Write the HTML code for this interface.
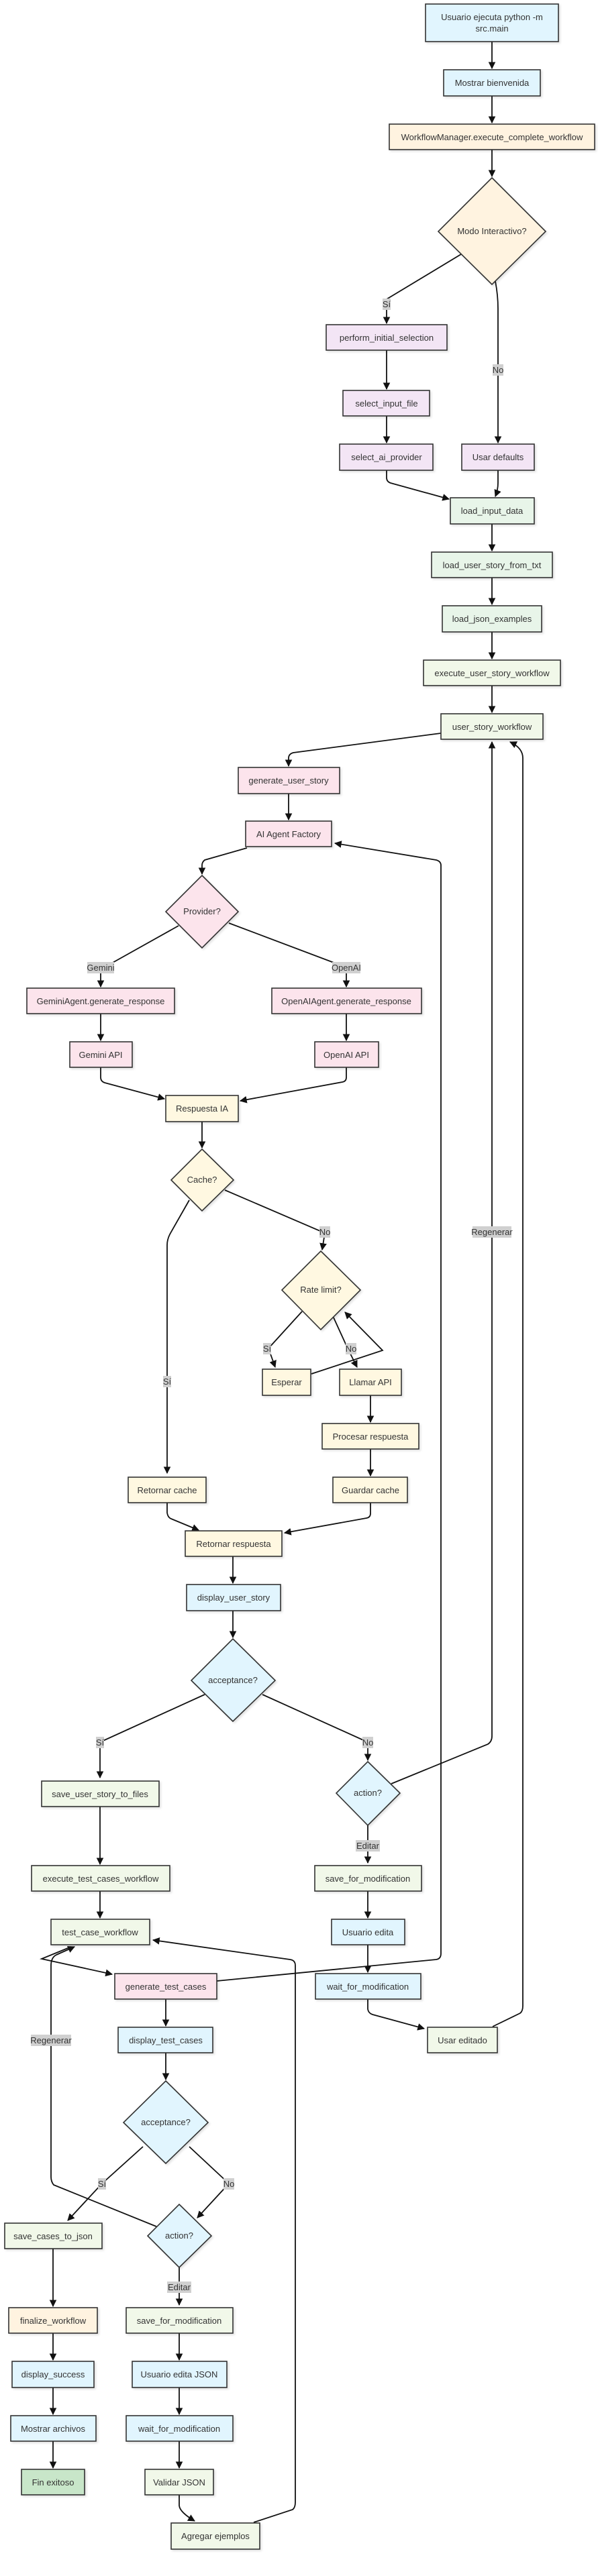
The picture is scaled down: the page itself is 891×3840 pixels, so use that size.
<!DOCTYPE html>
<html><head><meta charset="utf-8"><style>
html,body{margin:0;padding:0;background:#fff;}
svg{display:block;}
text{font-family:"Liberation Sans",sans-serif;font-size:13px;fill:#333;}
.n{stroke:#333;stroke-width:1.6;}
.e{fill:none;stroke:#111;stroke-width:1.8;}
.lb{fill:#d0d0d0;}
</style></head><body>
<svg width="891" height="3840" viewBox="0 0 891 3840" xmlns="http://www.w3.org/2000/svg">
<defs>
<marker id="a" viewBox="0 0 10 10" refX="9" refY="5" markerWidth="6" markerHeight="6" orient="auto-start-reverse" markerUnits="strokeWidth">
<path d="M0,0 L10,5 L0,10 z" fill="#111"/></marker>
<filter id="s" x="-10%" y="-10%" width="130%" height="130%"><feDropShadow dx="2" dy="2" stdDeviation="1.5" flood-color="#000" flood-opacity="0.12"/></filter>
</defs>

<!-- edges -->
<g class="e" marker-end="url(#a)">
<path d="M733,62 L733,102"/>
<path d="M733,143 L733,183"/>
<path d="M733,223 L733,263"/>
<path d="M687,379 L576,446 L576,482"/>
<path d="M738,419 Q742,440 742,460 L742,660"/>
<path d="M576,522 L576,580"/>
<path d="M576,620 L576,660"/>
<path d="M576,701 L576,712 Q576,718 582,720 L669,744"/>
<path d="M742,701 L742,720 Q742,730 738,740"/>
<path d="M733,781 L733,821"/>
<path d="M733,861 L733,901"/>
<path d="M733,942 L733,982"/>
<path d="M733,1022 L733,1062"/>
<path d="M657,1093 L437,1122 Q430,1124 430,1130 L430,1142"/>
<path d="M430,1183 L430,1222"/>
<path d="M368,1264 L305,1282 Q301,1285 301,1290 L301,1303"/>
<path d="M266,1380 L150,1445 L150,1471"/>
<path d="M341,1376 L516,1442 L516,1471"/>
<path d="M150,1511 L150,1551"/>
<path d="M516,1511 L516,1551"/>
<path d="M150,1591 L150,1606 Q150,1612 156,1614 L245,1638"/>
<path d="M516,1591 L516,1606 Q516,1612 510,1613 L358,1641"/>
<path d="M301,1672 L301,1711"/>
<path d="M335,1774 L484,1838 L480,1863"/>
<path d="M282,1789 L253,1840 Q249,1848 249,1856 L249,2196"/>
<path d="M450,1955 L400,2010 L410,2038"/>
<path d="M497,1964 L518,2010 L532,2038"/>
<path d="M464,2048 L570,2013 L514,1956"/>
<path d="M552,2080 L552,2120"/>
<path d="M552,2160 L552,2200"/>
<path d="M249,2240 L249,2255 Q250,2262 255,2264 L296,2281"/>
<path d="M552,2240 L552,2256 Q552,2262 546,2263 L424,2285"/>
<path d="M347,2320 L347,2360"/>
<path d="M347,2401 L347,2441"/>
<path d="M305,2526 L149,2597 L149,2650"/>
<path d="M391,2526 L548,2597 L548,2624"/>
<path d="M583,2659 L727,2600 Q733,2596 733,2588 L733,1106"/>
<path d="M548,2721 L548,2777"/>
<path d="M149,2693 L149,2779"/>
<path d="M149,2819 L149,2859"/>
<path d="M548,2819 L548,2859"/>
<path d="M548,2899 L548,2940"/>
<path d="M548,2980 L548,2995 Q549,3001 555,3003 L632,3024"/>
<path d="M734,3021 L775,3001 Q779,2998 779,2990 L779,1130 Q779,1115 760,1106"/>
<path d="M323,2953 L650,2921 Q657,2920 657,2912 L657,1290 Q657,1284 650,1282 L499,1257"/>
<path d="M106,2902 L62,2920 L167,2943"/>
<path d="M233,3319 L80,3257 Q76,3252 76,3245 L76,2930 Q76,2918 84,2914 L111,2902"/>
<path d="M247,2980 L247,3020"/>
<path d="M247,3060 L247,3100"/>
<path d="M213,3200 L152,3255 L101,3310"/>
<path d="M282,3200 L341,3255 L294,3306"/>
<path d="M267,3380 L267,3436"/>
<path d="M79,3352 L79,3438"/>
<path d="M79,3478 L79,3518"/>
<path d="M79,3559 L79,3599"/>
<path d="M79,3639 L79,3679"/>
<path d="M267,3478 L267,3518"/>
<path d="M267,3559 L267,3599"/>
<path d="M267,3639 L267,3679"/>
<path d="M267,3719 L267,3735 Q268,3745 290,3758"/>
<path d="M378,3760 L436,3741 Q440,3738 440,3730 L440,2930 Q440,2922 432,2921 L228,2892"/>
</g>

<!-- nodes -->
<g class="n" filter="url(#s)">
<rect x="634" y="6" width="198" height="56" fill="#e1f5fe"/>
<rect x="661" y="104" width="144" height="39" fill="#e1f5fe"/>
<rect x="580" y="185" width="306" height="38" fill="#fff3e0"/>
<polygon points="733,265 813,345 733,424 653,345" fill="#fff3e0"/>
<rect x="486" y="484" width="180" height="38" fill="#f3e5f5"/>
<rect x="511" y="582" width="129" height="38" fill="#f3e5f5"/>
<rect x="506" y="662" width="139" height="39" fill="#f3e5f5"/>
<rect x="688" y="662" width="108" height="39" fill="#f3e5f5"/>
<rect x="671" y="742" width="125" height="39" fill="#e8f5e9"/>
<rect x="643" y="823" width="180" height="38" fill="#e8f5e9"/>
<rect x="659" y="903" width="148" height="39" fill="#e8f5e9"/>
<rect x="631" y="984" width="204" height="38" fill="#f1f8e9"/>
<rect x="657" y="1064" width="152" height="38" fill="#f1f8e9"/>
<rect x="355" y="1144" width="151" height="39" fill="#fce4ec"/>
<rect x="366" y="1224" width="128" height="38" fill="#fce4ec"/>
<polygon points="301,1305 355,1359 301,1413 247,1359" fill="#fce4ec"/>
<rect x="40" y="1473" width="220" height="38" fill="#fce4ec"/>
<rect x="405" y="1473" width="223" height="38" fill="#fce4ec"/>
<rect x="104" y="1553" width="93" height="38" fill="#fce4ec"/>
<rect x="469" y="1553" width="95" height="38" fill="#fce4ec"/>
<rect x="247" y="1633" width="108" height="39" fill="#fff8e1"/>
<polygon points="301,1713 348,1759 301,1805 255,1759" fill="#fff8e1"/>
<polygon points="478,1865 537,1923 478,1982 420,1923" fill="#fff8e1"/>
<rect x="391" y="2041" width="72" height="39" fill="#fff8e1"/>
<rect x="506" y="2041" width="92" height="39" fill="#fff8e1"/>
<rect x="480" y="2122" width="144" height="38" fill="#fff8e1"/>
<rect x="191" y="2202" width="116" height="38" fill="#fff8e1"/>
<rect x="496" y="2202" width="111" height="38" fill="#fff8e1"/>
<rect x="276" y="2282" width="144" height="38" fill="#fff8e1"/>
<rect x="278" y="2362" width="140" height="39" fill="#e1f5fe"/>
<polygon points="347,2443 410,2505 347,2566 285,2505" fill="#e1f5fe"/>
<rect x="62" y="2655" width="175" height="38" fill="#f1f8e9"/>
<polygon points="548,2626 596,2673 548,2721 501,2673" fill="#e1f5fe"/>
<rect x="47" y="2781" width="206" height="38" fill="#f1f8e9"/>
<rect x="469" y="2781" width="159" height="38" fill="#f1f8e9"/>
<rect x="76" y="2861" width="147" height="38" fill="#f1f8e9"/>
<rect x="494" y="2861" width="109" height="38" fill="#e1f5fe"/>
<rect x="171" y="2942" width="152" height="38" fill="#fce4ec"/>
<rect x="470" y="2942" width="157" height="38" fill="#e1f5fe"/>
<rect x="176" y="3022" width="141" height="38" fill="#e1f5fe"/>
<rect x="637" y="3022" width="104" height="38" fill="#f1f8e9"/>
<polygon points="247,3102 310,3164 247,3225 184,3164" fill="#e1f5fe"/>
<polygon points="267,3286 315,3333 267,3380 220,3333" fill="#e1f5fe"/>
<rect x="7" y="3314" width="145" height="38" fill="#f1f8e9"/>
<rect x="13" y="3440" width="132" height="38" fill="#fff3e0"/>
<rect x="188" y="3440" width="159" height="38" fill="#f1f8e9"/>
<rect x="18" y="3520" width="122" height="39" fill="#e1f5fe"/>
<rect x="197" y="3520" width="141" height="39" fill="#e1f5fe"/>
<rect x="16" y="3601" width="127" height="38" fill="#e1f5fe"/>
<rect x="188" y="3601" width="159" height="38" fill="#e1f5fe"/>
<rect x="32" y="3681" width="94" height="38" fill="#c8e6c9"/>
<rect x="216" y="3681" width="102" height="38" fill="#f1f8e9"/>
<rect x="255" y="3761" width="132" height="39" fill="#f1f8e9"/>
</g>

<!-- edge labels -->
<g>
<rect class="lb" x="570" y="445" width="12" height="17"/><text x="576" y="458" text-anchor="middle">Sí</text>
<rect class="lb" x="734" y="543" width="16" height="17"/><text x="742" y="556" text-anchor="middle">No</text>
<rect class="lb" x="130" y="1434" width="40" height="17"/><text x="150" y="1447" text-anchor="middle">Gemini</text>
<rect class="lb" x="495" y="1434" width="42" height="17"/><text x="516" y="1447" text-anchor="middle">OpenAI</text>
<rect class="lb" x="476" y="1828" width="16" height="17"/><text x="484" y="1841" text-anchor="middle">No</text>
<rect class="lb" x="704" y="1828" width="58" height="17"/><text x="733" y="1841" text-anchor="middle">Regenerar</text>
<rect class="lb" x="243" y="2051" width="12" height="17"/><text x="249" y="2064" text-anchor="middle">Sí</text>
<rect class="lb" x="392" y="2002" width="12" height="17"/><text x="398" y="2015" text-anchor="middle">Sí</text>
<rect class="lb" x="515" y="2002" width="16" height="17"/><text x="523" y="2015" text-anchor="middle">No</text>
<rect class="lb" x="143" y="2589" width="12" height="17"/><text x="149" y="2602" text-anchor="middle">Sí</text>
<rect class="lb" x="540" y="2589" width="16" height="17"/><text x="548" y="2602" text-anchor="middle">No</text>
<rect class="lb" x="530" y="2743" width="36" height="17"/><text x="548" y="2756" text-anchor="middle">Editar</text>
<rect class="lb" x="46" y="3033" width="60" height="17"/><text x="76" y="3046" text-anchor="middle">Regenerar</text>
<rect class="lb" x="146" y="3247" width="12" height="17"/><text x="152" y="3260" text-anchor="middle">Sí</text>
<rect class="lb" x="333" y="3247" width="16" height="17"/><text x="341" y="3260" text-anchor="middle">No</text>
<rect class="lb" x="249" y="3401" width="36" height="17"/><text x="267" y="3414" text-anchor="middle">Editar</text>
</g>

<!-- node labels -->
<g text-anchor="middle">
<text x="733" y="30">Usuario ejecuta python -m</text>
<text x="733" y="47">src.main</text>
<text x="733" y="128">Mostrar bienvenida</text>
<text x="733" y="209">WorkflowManager.execute_complete_workflow</text>
<text x="733" y="349">Modo Interactivo?</text>
<text x="576" y="508">perform_initial_selection</text>
<text x="576" y="606">select_input_file</text>
<text x="576" y="686">select_ai_provider</text>
<text x="742" y="686">Usar defaults</text>
<text x="733" y="766">load_input_data</text>
<text x="733" y="847">load_user_story_from_txt</text>
<text x="733" y="927">load_json_examples</text>
<text x="733" y="1008">execute_user_story_workflow</text>
<text x="733" y="1088">user_story_workflow</text>
<text x="430" y="1168">generate_user_story</text>
<text x="430" y="1248">AI Agent Factory</text>
<text x="301" y="1363">Provider?</text>
<text x="150" y="1497">GeminiAgent.generate_response</text>
<text x="516" y="1497">OpenAIAgent.generate_response</text>
<text x="150" y="1577">Gemini API</text>
<text x="516" y="1577">OpenAI API</text>
<text x="301" y="1657">Respuesta IA</text>
<text x="301" y="1763">Cache?</text>
<text x="478" y="1927">Rate limit?</text>
<text x="427" y="2065">Esperar</text>
<text x="552" y="2065">Llamar API</text>
<text x="552" y="2146">Procesar respuesta</text>
<text x="249" y="2226">Retornar cache</text>
<text x="552" y="2226">Guardar cache</text>
<text x="348" y="2306">Retornar respuesta</text>
<text x="348" y="2386">display_user_story</text>
<text x="347" y="2509">acceptance?</text>
<text x="149" y="2679">save_user_story_to_files</text>
<text x="548" y="2677">action?</text>
<text x="150" y="2805">execute_test_cases_workflow</text>
<text x="548" y="2805">save_for_modification</text>
<text x="149" y="2885">test_case_workflow</text>
<text x="548" y="2885">Usuario edita</text>
<text x="247" y="2966">generate_test_cases</text>
<text x="548" y="2966">wait_for_modification</text>
<text x="247" y="3046">display_test_cases</text>
<text x="689" y="3046">Usar editado</text>
<text x="247" y="3168">acceptance?</text>
<text x="267" y="3337">action?</text>
<text x="79" y="3338">save_cases_to_json</text>
<text x="79" y="3464">finalize_workflow</text>
<text x="267" y="3464">save_for_modification</text>
<text x="79" y="3544">display_success</text>
<text x="267" y="3544">Usuario edita JSON</text>
<text x="79" y="3625">Mostrar archivos</text>
<text x="267" y="3625">wait_for_modification</text>
<text x="79" y="3705">Fin exitoso</text>
<text x="267" y="3705">Validar JSON</text>
<text x="321" y="3785">Agregar ejemplos</text>
</g>
</svg>
</body></html>
